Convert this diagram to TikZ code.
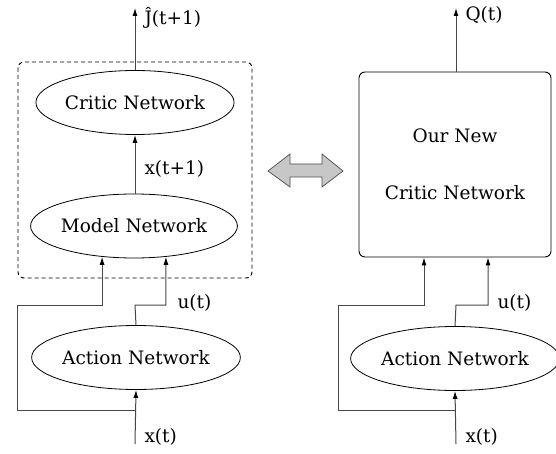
\documentclass[tikz,border=0pt]{standalone}
\usepackage{fontspec}
\setmainfont{DejaVu Serif}
\usetikzlibrary{shapes.geometric,arrows.meta,calc}

\begin{document}
\begin{tikzpicture}[x=1pt,y=-1pt,
  font=\fontsize{18.5}{22}\selectfont,
  net/.style={draw,ellipse,line width=0.8pt,minimum width=193pt,minimum height=64pt,inner sep=0pt},
  conn/.style={draw=black!72,line width=1pt,-{Latex[black,length=8pt,width=5pt]}},
  wire/.style={draw=black!72,line width=1pt}]
\useasboundingbox (0,0) rectangle (556,454);

% left: model based critic
\draw[dashed,dash pattern=on 4pt off 3pt,rounded corners=6pt,line width=0.9pt] (18,62) rectangle (252,278);
\node[net] (critL) at (135,102.5) {Critic Network};
\node[net] (modL) at (134,226) {Model Network};
\node[net] (actL) at (136,357.5) {Action Network};

\coordinate (jhat) at (135,8);
\coordinate (xinL) at (135,444);
\coordinate (jL) at (135,410);
\coordinate (lL) at (17,305);
\coordinate (uL) at (135,305);

\draw[conn] (critL.north) -- (jhat);
\draw[conn] (modL.north -| critL) -- (critL.south);
\draw[conn] (xinL) -- (actL.south);
\draw[conn] (jL) -| (lL) -| (modL.-136);
\draw[conn] (actL.north) -- (uL) -| (modL.-44);

\node[anchor=base west] at (141,25) {\^J(t+1)};
\node[anchor=base west] at (141,175) {x(t+1)};
\node[anchor=base west] at (174,308) {u(t)};
\node[anchor=base west] at (141,442) {x(t)};

% middle
\draw[fill=black!22,draw=black!70,line width=0.7pt] (268,171) -- (290,154) -- (290,164) -- (322,164) -- (322,154)
  -- (343,171) -- (322,187) -- (322,177) -- (290,177) -- (290,187) -- cycle;

% right: new critic
\node[draw,rounded corners=6pt,line width=0.9pt,minimum width=192pt,minimum height=185pt,align=center] (newC) at (455,164.5)
  {Our New\\[35pt]Critic Network};
\node[net] (actR) at (455,358.5) {Action Network};

\coordinate (qout) at (456,8);
\coordinate (xinR) at (456,444);
\coordinate (jR) at (456,410);
\coordinate (lR) at (338,305);
\coordinate (uR) at (456,305);

\draw[conn] (newC.north -| qout) -- (qout);
\draw[conn] (xinR) -- (actR.south);
\draw[conn] (jR) -| (lR) -| ($(newC.south)+(-31,0)$);
\draw[conn] (actR.north) -- (uR) -| ($(newC.south)+(33,0)$);

\node[anchor=base west] at (462,21) {Q(t)};
\node[anchor=base west] at (494,308) {u(t)};
\node[anchor=base west] at (462,442) {x(t)};
\end{tikzpicture}
\end{document}
